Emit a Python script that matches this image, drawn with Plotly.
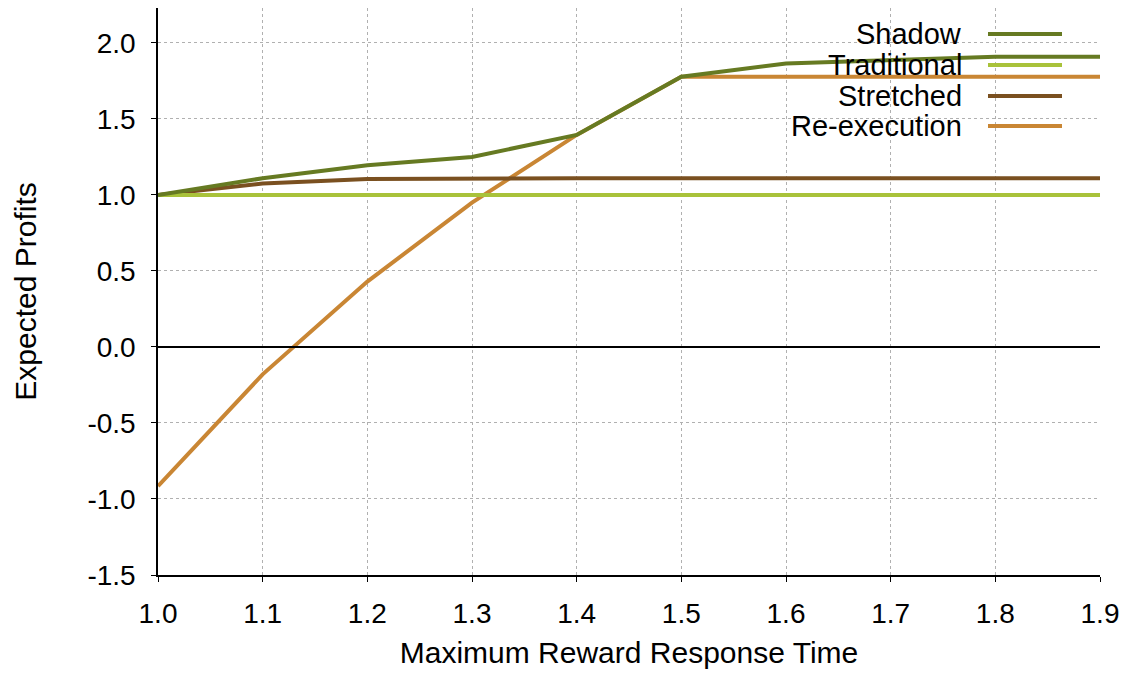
import plotly.graph_objects as go

# Maximum reward response time (x) and expected profits per strategy
response_time = [1.0, 1.1, 1.2, 1.3, 1.4, 1.5, 1.6, 1.7, 1.8, 1.9]
shadow = [1.0, 1.11, 1.195, 1.25, 1.395, 1.778, 1.865, 1.885, 1.91, 1.91]
traditional = [1.0, 1.0, 1.0, 1.0, 1.0, 1.0, 1.0, 1.0, 1.0, 1.0]
stretched = [1.0, 1.075, 1.105, 1.11, 1.11, 1.11, 1.11, 1.11, 1.11, 1.11]
re_execution = [-0.915, -0.18, 0.43, 0.95, 1.395, 1.778, 1.778, 1.778, 1.778, 1.778]

series_names = ["Shadow", "Traditional", "Stretched", "Re-execution"]
series_colors = ["#667a22", "#a9c23a", "#7a5020", "#c98634"]
series_values = [shadow, traditional, stretched, re_execution]

x_ticks = [1.0, 1.1, 1.2, 1.3, 1.4, 1.5, 1.6, 1.7, 1.8, 1.9]
y_ticks = [-1.5, -1.0, -0.5, 0.0, 0.5, 1.0, 1.5, 2.0]

FONT = "Liberation Sans"
TICK_SIZE = 28
TITLE_SIZE = 30
KEY_SIZE = 29

fig = go.Figure()

# Draw order: Re-execution underneath, Shadow on top
for name, color, vals in reversed(list(zip(series_names, series_colors, series_values))):
    fig.add_trace(go.Scatter(
        x=response_time, y=vals, mode="lines", name=name,
        line=dict(color=color, width=4), showlegend=False,
    ))

# Zero reference line
fig.add_hline(y=0, line=dict(color="black", width=2), layer="above")

# Key box: white backing above the grid, below the data lines
fig.add_shape(type="rect", xref="paper", yref="paper",
              x0=0.615, x1=0.985, y0=0.775, y1=0.985,
              fillcolor="white", line=dict(width=0), layer="between")

key_y = [34, 65, 96, 126]  # pixel rows of key entries
plot_left, plot_right = 158, 1100
plot_top, plot_bottom = 8, 575
for name, color, py in zip(series_names, series_colors, key_y):
    yp = (plot_bottom - py) / (plot_bottom - plot_top)
    fig.add_annotation(xref="paper", yref="paper",
                       x=(964 - plot_left) / (plot_right - plot_left), y=yp,
                       text=name, showarrow=False, xanchor="right", yanchor="middle",
                       font=dict(family=FONT, size=KEY_SIZE, color="black"))
    fig.add_shape(type="line", xref="paper", yref="paper",
                  x0=(988 - plot_left) / (plot_right - plot_left),
                  x1=(1062 - plot_left) / (plot_right - plot_left), y0=yp, y1=yp,
                  line=dict(color=color, width=4), layer="above")

fig.update_layout(
    width=1121, height=674,
    margin=dict(l=158, r=21, t=8, b=99, autoexpand=False),
    paper_bgcolor="white", plot_bgcolor="white",
    font=dict(family=FONT, size=TICK_SIZE, color="black"),
    xaxis=dict(
        range=[1.0, 1.9], tickvals=x_ticks, ticktext=[f"{v:.1f}" for v in x_ticks],
        showgrid=True, gridcolor="#b0b0b0", griddash="dot", gridwidth=1,
        showline=True, linecolor="black", linewidth=1.5,
        ticks="outside", ticklen=5, tickcolor="black",
        zeroline=False, ticklabelstandoff=8, automargin=False,
        tickfont=dict(family=FONT, size=TICK_SIZE),
        title=dict(text="Maximum Reward Response Time", standoff=14,
                   font=dict(family=FONT, size=TITLE_SIZE)),
    ),
    yaxis=dict(
        range=[-1.5, 2.23], tickvals=y_ticks, ticktext=[f"{v:.1f}" for v in y_ticks],
        showgrid=True, gridcolor="#b0b0b0", griddash="dot", gridwidth=1,
        showline=True, linecolor="black", linewidth=1.5,
        ticks="outside", ticklen=5, tickcolor="black",
        zeroline=False, ticklabelstandoff=10, automargin=False,
        tickfont=dict(family=FONT, size=TICK_SIZE),
        title=dict(text="Expected Profits", standoff=42,
                   font=dict(family=FONT, size=TITLE_SIZE)),
    ),
)

fig.write_html("out.html")
